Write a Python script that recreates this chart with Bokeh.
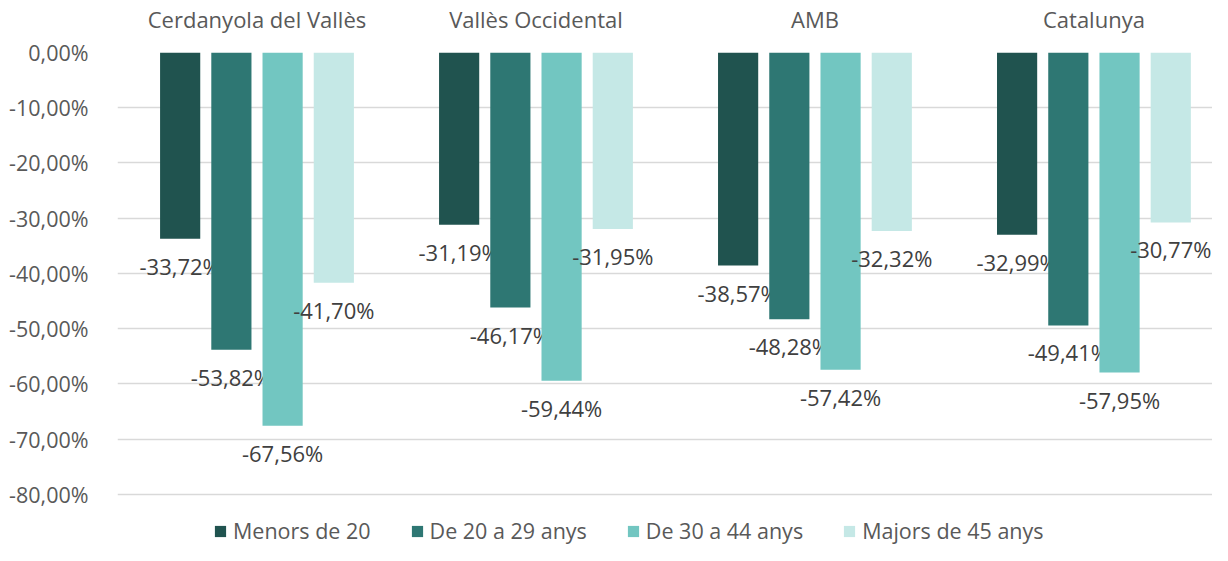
from bokeh.plotting import figure
from bokeh.models import ColumnDataSource, Range1d, FixedTicker, LinearAxis, Legend, LegendItem
from bokeh.core.properties import value
from bokeh.embed import file_html
from bokeh.resources import INLINE

regions = ["Cerdanyola del Vallès", "Vallès Occidental", "AMB", "Catalunya"]
series = ["Menors de 20", "De 20 a 29 anys", "De 30 a 44 anys", "Majors de 45 anys"]
menors_20 = [-33.72, -31.19, -38.57, -32.99]
de_20_29 = [-53.82, -46.17, -48.28, -49.41]
de_30_44 = [-67.56, -59.44, -57.42, -57.95]
majors_45 = [-41.70, -31.95, -32.32, -30.77]
y_ticks = [0, -10, -20, -30, -40, -50, -60, -70, -80]
y_tick_labels = ["0,00%", "-10,00%", "-20,00%", "-30,00%", "-40,00%", "-50,00%", "-60,00%", "-70,00%", "-80,00%"]

colors = ["#20534f", "#2e7773", "#72c6c1", "#c5e8e6"]
values = [menors_20, de_20_29, de_30_44, majors_45]
offsets = [-0.2754, -0.0918, 0.0918, 0.2754]
bar_w = 0.144
FONT = "Open Sans"

p = figure(width=1212, height=545, output_backend="svg", toolbar_location=None,
           x_range=Range1d(0, 3.925), y_range=Range1d(-89.25, 0),
           x_axis_location=None,
           min_border_left=117, min_border_right=0, min_border_top=45, min_border_bottom=0)
p.outline_line_color = None
p.xgrid.visible = False
p.ygrid.grid_line_color = "#d9d9d9"
p.ygrid.grid_line_width = 1.5
p.yaxis.ticker = FixedTicker(ticks=y_ticks)
p.yaxis.major_label_overrides = {t: l for t, l in zip(y_ticks, y_tick_labels)}
p.yaxis.axis_line_color = None
p.yaxis.major_tick_line_color = None
p.yaxis.minor_tick_line_color = None
p.yaxis.major_label_standoff = 23
p.yaxis.major_label_text_font = FONT
p.yaxis.major_label_text_font_size = "21.5px"
p.yaxis.major_label_text_color = "#595959"

top_axis = LinearAxis(ticker=FixedTicker(ticks=[0.5, 1.5, 2.5, 3.5]),
                      major_label_overrides={i + 0.5: r for i, r in enumerate(regions)})
top_axis.axis_line_color = None
top_axis.major_tick_line_color = None
top_axis.minor_tick_line_color = None
top_axis.major_label_standoff = 13
top_axis.major_label_text_font = FONT
top_axis.major_label_text_font_size = "22px"
top_axis.major_label_text_color = "#595959"
p.add_layout(top_axis, "above")

items = []
for s, name in enumerate(series):
    xs = [i + 0.5 + offsets[s] for i in range(len(regions))]
    src = ColumnDataSource(dict(x=xs, top=[0] * len(xs), bottom=values[s],
                                lab=[f"{v:.2f}%".replace(".", ",") for v in values[s]]))
    r = p.vbar(x="x", width=bar_w, top="top", bottom="bottom", source=src,
               fill_color=colors[s], line_color=None)
    p.text(x="x", y="bottom", text="lab", source=src, text_align="center",
           text_baseline="top", y_offset=12, text_font=value(FONT),
           text_font_size="22px", text_color="#404040")
    items.append(LegendItem(label=name, renderers=[r]))

legend = Legend(items=items, orientation="horizontal", location=(96, 0))
legend.border_line_color = None
legend.background_fill_alpha = 0
legend.label_text_font = FONT
legend.label_text_font_size = "21.5px"
legend.label_text_color = "#595959"
legend.label_height = 20
legend.glyph_width = 14
legend.glyph_height = 14
legend.label_standoff = 6
legend.spacing = 39
legend.margin = 0
legend.padding = 0
p.add_layout(legend, "center")

open("out.html", "w").write(file_html(p, INLINE))
